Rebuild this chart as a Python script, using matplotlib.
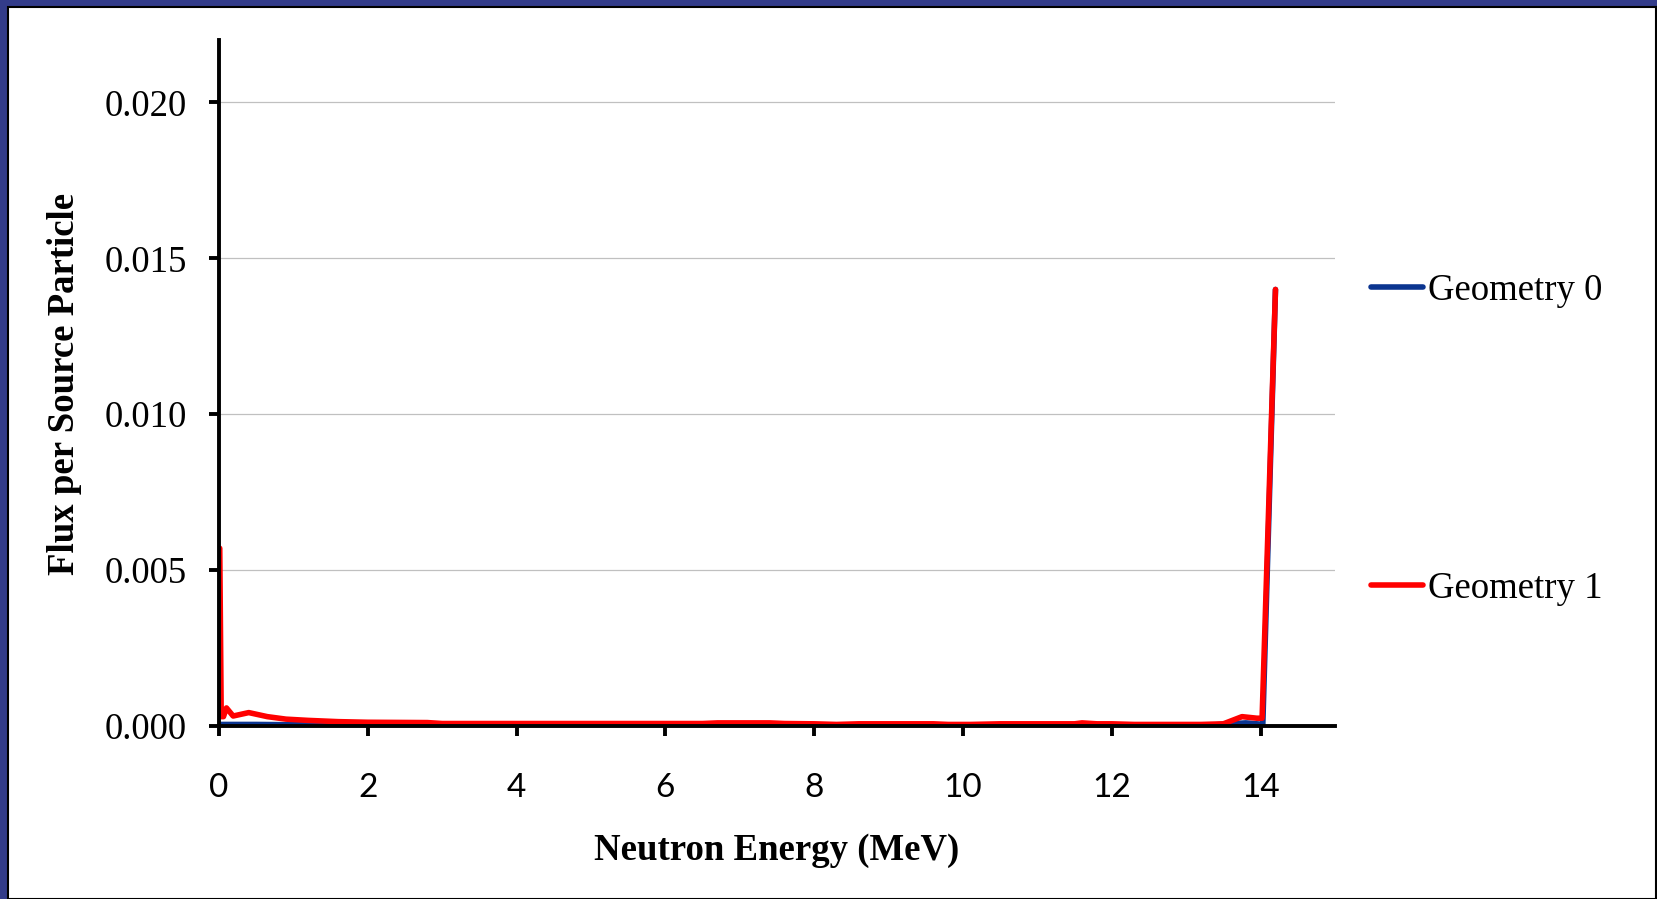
import numpy as np
import matplotlib.pyplot as plt
from matplotlib.patches import Rectangle

# energies (MeV) and flux per source particle
energy_g0 = [0.0, 0.5, 1.0, 2.0, 4.0, 6.0, 8.0, 10.0, 12.0, 13.4, 13.8, 14.0, 14.03, 14.2]
flux_g0 = [0.00005, 0.00005, 0.00004, 0.00003, 0.00003, 0.00003, 0.00003, 0.00003,
           0.00003, 0.00004, 0.0001, 0.00006, 0.00006, 0.0140]

energy_g1 = [0.01, 0.03, 0.06, 0.10, 0.19, 0.40, 0.65, 0.9, 1.2, 1.6, 2.0, 2.8, 3.0,
             4.0, 5.0, 6.0, 6.5, 6.7, 7.4, 7.6, 8.0, 8.3, 8.6, 9.6, 9.8, 10.1, 10.5,
             11.5, 11.6, 11.8, 12.0, 12.3, 13.2, 13.5, 13.75, 13.95, 14.02, 14.2]
flux_g1 = [0.0057, 0.0003, 0.0003, 0.00058, 0.00032, 0.00043, 0.0003, 0.00022,
           0.00018, 0.00014, 0.00012, 0.00011, 0.00008, 0.00008, 0.00008, 0.00008,
           0.00008, 0.0001, 0.0001, 0.00008, 0.00007, 0.00005, 0.00007, 0.00007,
           0.00005, 0.00005, 0.00007, 0.00007, 0.0001, 0.00007, 0.00007, 0.00005,
           0.00005, 0.00007, 0.0003, 0.00025, 0.00025, 0.0140]

x_ticks = [0, 2, 4, 6, 8, 10, 12, 14]
y_ticks = [0.000, 0.005, 0.010, 0.015, 0.020]

W, H = 1658, 899
fig = plt.figure(figsize=(W / 100, H / 100), dpi=100, facecolor='#333c8a')

# white slide panel with thin black edge
fig.patches.append(Rectangle((8 / W, 0), (1656 - 8) / W, (H - 7) / H, transform=fig.transFigure,
                             facecolor='white', edgecolor='black', linewidth=1.5, zorder=-10))

ax = fig.add_axes([219 / W, (H - 726) / H, (1335 - 219) / W, (726 - 40) / H])
ax.set_zorder(2)
ax.set_facecolor('none')

ax.plot(energy_g0, flux_g0, color='#0b3590', linewidth=4.0, label='Geometry 0',
        solid_capstyle='round', zorder=3)
ax.plot(energy_g1, flux_g1, color='#ff0000', linewidth=4.0, label='Geometry 1',
        solid_capstyle='round', zorder=4)

ax.set_xlim(0, 15)
ax.set_ylim(0, 0.022)
ax.set_xticks(x_ticks)
ax.set_yticks(y_ticks)
ax.set_yticklabels(['%.3f' % v for v in y_ticks])

for s in ['top', 'right']:
    ax.spines[s].set_visible(False)
for s in ['left', 'bottom']:
    ax.spines[s].set_linewidth(2.8)
    ax.spines[s].set_color('black')
    ax.spines[s].set_zorder(5)

ax.grid(axis='y', color='#c0c0c0', linewidth=0.9)
ax.set_axisbelow(True)

ax.tick_params(axis='y', direction='out', length=7, width=2.8, pad=16,
               labelsize=26.5, labelfontfamily='Liberation Serif')
ax.tick_params(axis='x', direction='out', length=7, width=2.8, pad=27,
               labelsize=24, labelfontfamily='Lato')

fig.text(777 / W, 1 - 851 / H, 'Neutron Energy (MeV)', ha='center', va='center',
         fontsize=26.5, fontweight='bold', family='Liberation Serif')
fig.text(65 / W, 1 - 384 / H, 'Flux per Source Particle', ha='center', va='center',
         rotation=90, fontsize=26.5, fontweight='bold', family='Liberation Serif')

ax.legend(loc='center left', bbox_to_anchor=(1.032, 0.417), frameon=False,
          borderpad=0, borderaxespad=0, handlelength=1.42, handletextpad=0.15,
          labelspacing=7.15, prop={'family': 'Liberation Serif', 'size': 26.5})

fig.savefig('out.png', dpi=100, facecolor=fig.get_facecolor())
